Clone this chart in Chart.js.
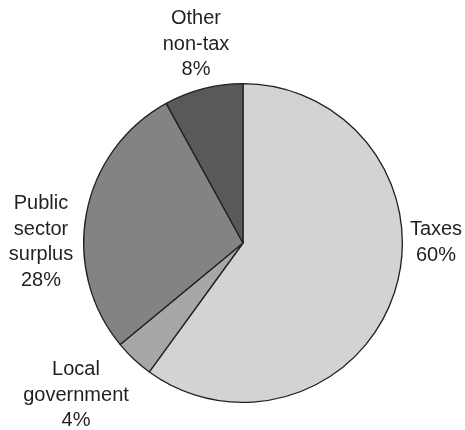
<!DOCTYPE html>
<html>
<head>
<meta charset="utf-8">
<script src="https://cdn.jsdelivr.net/npm/chart.js@4"></script>
<style>
  html, body { margin: 0; padding: 0; background: #fff; }
  #wrap { width: 465px; height: 430px; }
</style>
</head>
<body>
<div id="wrap"><canvas id="pie"></canvas></div>
<script>
// data
var categories = ['Taxes', 'Local government', 'Public sector surplus', 'Other non-tax'];
var shares = [60, 4, 28, 8];
var sliceColors = ['#d3d3d5', '#a7a7a9', '#838385', '#59595b'];

// label text lines, and centre x / first baseline y of each block
var labelLines = [
    ['Taxes', '60%'],
    ['Local', 'government', '4%'],
    ['Public', 'sector', 'surplus', '28%'],
    ['Other', 'non-tax', '8%']
];
var labelPos = [
    {x: 436, y: 235},
    {x: 76, y: 375},
    {x: 41, y: 209},
    {x: 196, y: 24}
];

var sliceLabels = {
    id: 'sliceLabels',
    afterDraw: function(chart){
        var ctx = chart.ctx;
        var lineH = 25.7;
        ctx.save();
        ctx.fillStyle = '#231f20';
        ctx.font = '20px "Liberation Sans", Arial, sans-serif';
        ctx.textAlign = 'center';
        ctx.textBaseline = 'alphabetic';
        for(var i = 0; i < labelLines.length; i++){
            var lines = labelLines[i];
            for(var j = 0; j < lines.length; j++){
                ctx.fillText(lines[j], labelPos[i].x, labelPos[i].y + j * lineH);
            }
        }
        ctx.restore();
    }
};

var config = {
    type: 'pie',
    data: {
        labels: categories,
        datasets: [{
            data: shares,
            backgroundColor: sliceColors,
            borderColor: '#231f20',
            borderWidth: 1.3
        }]
    },
    options: {
        responsive: true,
        maintainAspectRatio: false,
        animation: false,
        layout: {
            padding: {left: 83, right: 62, top: 83, bottom: 27}
        },
        plugins: {
            legend: {display: false},
            tooltip: {enabled: false}
        }
    },
    plugins: [sliceLabels]
};

var ctx = document.getElementById('pie').getContext('2d');
var chart = new Chart(ctx, config);
</script>
</body>
</html>
